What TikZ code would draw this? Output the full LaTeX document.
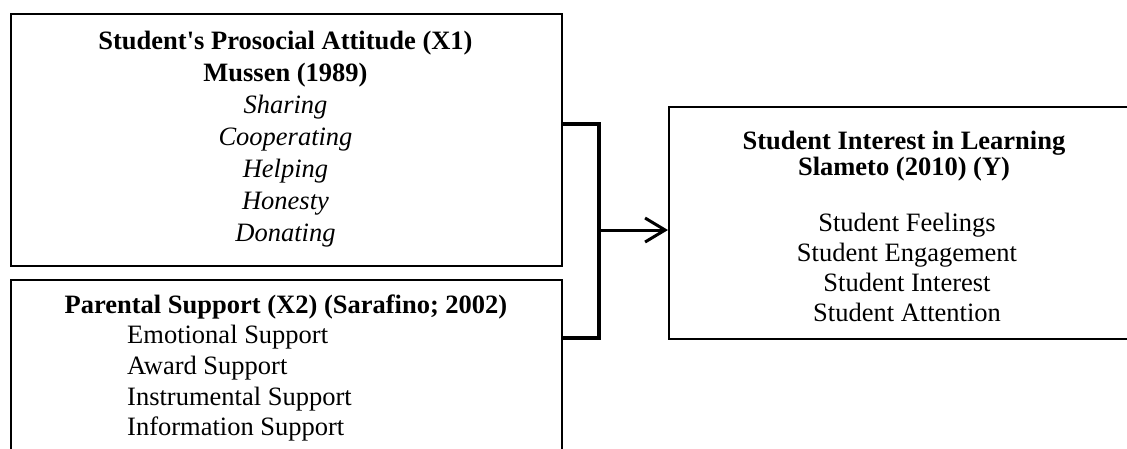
\documentclass[tikz,border=0pt]{standalone}
\usepackage{fontspec}
\setmainfont{Liberation Serif}
\usetikzlibrary{arrows.meta}
\tikzset{
  boxnode/.style={draw=black, line width=1.6pt, rectangle, inner sep=0pt},
  txt/.style={inner sep=0pt, anchor=base, font=\fontsize{26.5}{30}\selectfont},
  txtl/.style={txt, anchor=base west},
  bracket/.style={line width=3.5pt, line join=miter},
  arr/.style={line width=3pt, -{Straight Barb[length=20pt, width=24pt, line width=3pt]}}
}
\begin{document}
\begin{tikzpicture}[x=1pt, y=-1pt]
\clip (0,0) rectangle (1127,448);
\fill[white] (0,0) rectangle (1127,448);
% boxes
\node[boxnode, minimum width=551pt, minimum height=252pt, anchor=north west] (b1) at (10,13) {};
\node[boxnode, minimum width=551pt, minimum height=190pt, anchor=north west] (b2) at (10,279) {};
\node[boxnode, minimum width=472pt, minimum height=232pt, anchor=north west] (b3) at (668,106) {};
% box 1 text
\node[txt] (t11) at (285.5,49) {\textbf{Student\textquotesingle s Prosocial Attitude (X1)}};
\node[txt] (t12) at (285.5,81) {\textbf{Mussen (1989)}};
\node[txt] (t13) at (285.5,113) {\textit{Sharing}};
\node[txt] (t14) at (285.5,145) {\textit{Cooperating}};
\node[txt] (t15) at (285.5,177) {\textit{Helping}};
\node[txt] (t16) at (285.5,209) {\textit{Honesty}};
\node[txt] (t17) at (285.5,241) {\textit{Donating}};
% box 2 text
\node[txt] (t21) at (286,313) {\textbf{Parental Support (X2) (Sarafino; 2002)}};
\node[txtl] (t22) at (127,343) {Emotional Support};
\node[txtl] (t23) at (127,374) {Award Support};
\node[txtl] (t24) at (127,405) {Instrumental Support};
\node[txtl] (t25) at (127,435) {Information Support};
% box 3 text
\node[txt] (t31) at (904,149) {\textbf{Student Interest in Learning}};
\node[txt] (t32) at (904,175) {\textbf{Slameto (2010) (Y)}};
\node[txt] (t33) at (907,231) {Student Feelings};
\node[txt] (t34) at (907,261) {Student Engagement};
\node[txt] (t35) at (907,291) {Student Interest};
\node[txt] (t36) at (907,321) {Student Attention};
% connectors
\coordinate (jt) at (599,124);
\coordinate (jb) at (599,338);
\coordinate (jm) at (599,230);
\draw[bracket] (b1.east |- jt) -- (jt) -- (jb) -- (b2.east |- jb);
\draw[arr] (jm) -- (b3.west |- jm);
\end{tikzpicture}
\end{document}
